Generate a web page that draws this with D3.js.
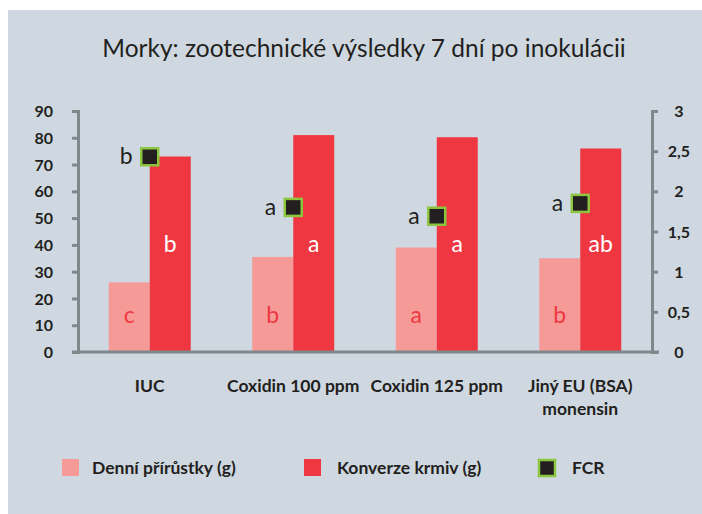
<!DOCTYPE html>
<html>
<head>
<meta charset="utf-8">
<script src="https://cdn.jsdelivr.net/npm/d3@7"></script>
<style>
  body { margin: 0; background: #fff; }
  text { font-family: Lato, "Open Sans", sans-serif; fill: #231f20; }
</style>
</head>
<body>
<div id="chart"></div>
<script>
// data
const categories = ["IUC", "Coxidin 100 ppm", "Coxidin 125 ppm", "Jiný EU (BSA)|monensin"];
const gain = [26, 35.5, 39, 35];          // Denní přírůstky (g)
const conversion = [73, 81, 80.2, 76];    // Konverze krmiv (g)
const fcr = [2.43, 1.8, 1.69, 1.85];      // FCR (right axis)
const gainLetters = ["c", "b", "a", "b"];
const convLetters = ["b", "a", "a", "ab"];
const fcrLetters = ["b", "a", "a", "a"];
const leftTicks = [0, 10, 20, 30, 40, 50, 60, 70, 80, 90];
const rightTicks = [0, 0.5, 1, 1.5, 2, 2.5, 3];

const width = 702, height = 514;
const plotLeft = 78, plotRight = 652, plotTop = 111, plotBottom = 352;
const lightRed = "#f59a97", darkRed = "#ef3742";
const axisGray = "#7f898b";

const svg = d3.select("#chart").append("svg")
  .attr("width", width).attr("height", height);

// card background
svg.append("rect")
  .attr("x", 8).attr("y", 10)
  .attr("width", width - 8).attr("height", height - 10)
  .attr("fill", "#cfd8e0");

// title
svg.append("text")
  .attr("x", 364).attr("y", 57)
  .attr("text-anchor", "middle")
  .style("font-size", "24.5px")
  .text("Morky: zootechnické výsledky 7 dní po inokulácii");

// scales
const x0 = d3.scaleBand().domain(categories).range([plotLeft, plotRight]).padding(0);
const x1 = d3.scaleBand().domain(["gain", "conv"]).range([0, x0.bandwidth()])
  .paddingInner(0).paddingOuter(0.75);
const yL = d3.scaleLinear().domain([0, 90]).range([plotBottom, plotTop]);
const yR = d3.scaleLinear().domain([0, 3]).range([plotBottom, plotTop]);

const rows = categories.map((c, i) => ({
  cat: c, gain: gain[i], conv: conversion[i], fcr: fcr[i],
  gl: gainLetters[i], cl: convLetters[i], fl: fcrLetters[i]
}));

// bars
const g = svg.append("g").selectAll("g").data(rows).join("g")
  .attr("transform", d => `translate(${x0(d.cat)},0)`);

g.append("rect")
  .attr("x", x1("gain")).attr("width", x1.bandwidth())
  .attr("y", d => yL(d.gain)).attr("height", d => yL(0) - yL(d.gain))
  .attr("fill", lightRed);

g.append("rect")
  .attr("x", x1("conv")).attr("width", x1.bandwidth())
  .attr("y", d => yL(d.conv)).attr("height", d => yL(0) - yL(d.conv))
  .attr("fill", darkRed);

// letters inside bars
g.append("text")
  .attr("x", x1("gain") + x1.bandwidth() / 2).attr("y", yL(11))
  .attr("text-anchor", "middle")
  .style("font-size", "23px").style("fill", darkRed)
  .text(d => d.gl);

g.append("text")
  .attr("x", x1("conv") + x1.bandwidth() / 2).attr("y", yL(37.5))
  .attr("text-anchor", "middle")
  .style("font-size", "23px").style("fill", "#fff")
  .text(d => d.cl);

// axes
const axL = svg.append("g")
  .attr("transform", `translate(${plotLeft},0)`)
  .call(d3.axisLeft(yL).tickValues(leftTicks).tickSize(6).tickSizeOuter(0).tickPadding(19));
const axR = svg.append("g")
  .attr("transform", `translate(${plotRight},0)`)
  .call(d3.axisRight(yR).tickValues(rightTicks).tickSize(6).tickSizeOuter(0)
    .tickFormat(d => String(d).replace(".", ",")));
axR.selectAll(".tick text").attr("x", 27).attr("text-anchor", "middle");

[axL, axR].forEach(a => {
  a.selectAll("path, line").attr("stroke", axisGray).attr("stroke-width", 3);
  a.selectAll("text").style("font-size", "16px").style("font-weight", "bold")
    .style("fill", "#231f20").attr("dy", "0.35em");
  a.select(".domain").attr("stroke-linecap", "square");
});

// baseline
svg.append("line")
  .attr("x1", plotLeft - 6).attr("x2", plotRight + 7)
  .attr("y1", yL(0)).attr("y2", yL(0))
  .attr("stroke", axisGray).attr("stroke-width", 3);

// category labels
const catLabels = svg.append("g").selectAll("text").data(rows).join("text")
  .attr("x", d => x0(d.cat) + x0.bandwidth() / 2)
  .attr("y", 392)
  .attr("text-anchor", "middle")
  .style("font-size", "17.5px").style("font-weight", "bold");
catLabels.each(function (d) {
  d.cat.split("|").forEach((line, i) => {
    d3.select(this).append("tspan")
      .attr("x", x0(d.cat) + x0.bandwidth() / 2)
      .attr("dy", i ? 23 : 0)
      .text(line);
  });
});

// FCR markers
const m = svg.append("g").selectAll("g").data(rows).join("g")
  .attr("transform", d => `translate(${x0(d.cat) + x0.bandwidth() / 2},${yR(d.fcr)})`);
m.append("rect")
  .attr("x", -8.5).attr("y", -8.5).attr("width", 17).attr("height", 17)
  .attr("fill", "#231f20").attr("stroke", "#8cc63f").attr("stroke-width", 2.5);
m.append("text")
  .attr("x", -17).attr("y", 7.5)
  .attr("text-anchor", "end")
  .style("font-size", "23px")
  .text(d => d.fl);

// legend
const legend = svg.append("g").attr("transform", "translate(0,468)");
const legendText = (x, label) => legend.append("text")
  .attr("x", x).attr("y", 6)
  .style("font-size", "17.5px").style("font-weight", "bold")
  .text(label);
legend.append("rect").attr("x", 62).attr("y", -9).attr("width", 17).attr("height", 17).attr("fill", lightRed);
legendText(92, "Denní přírůstky (g)");
legend.append("rect").attr("x", 304).attr("y", -9).attr("width", 17).attr("height", 17).attr("fill", darkRed);
legendText(337, "Konverze krmiv (g)");
legend.append("rect").attr("x", 539).attr("y", -8).attr("width", 16).attr("height", 16)
  .attr("fill", "#231f20").attr("stroke", "#8cc63f").attr("stroke-width", 2.5);
legendText(572, "FCR");
</script>
</body>
</html>
